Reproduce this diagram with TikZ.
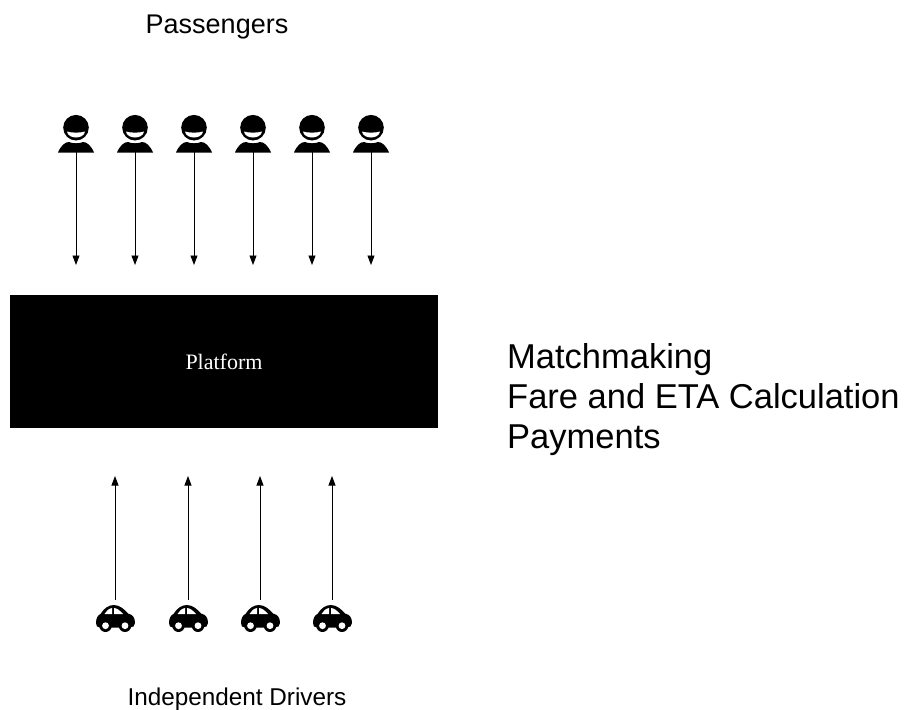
\documentclass[tikz,border=0pt]{standalone}
\usepackage{fontspec}
\setmainfont{Liberation Sans}
\newfontfamily\serifface{Liberation Serif}
\usetikzlibrary{arrows.meta}
\tikzset{
  x=1pt,y=-1pt,
  flow/.style={draw=black,line width=0.9pt,-{Triangle[length=9.5pt,width=7pt]},shorten >=0pt},
  label/.style={text=black,inner sep=0pt,anchor=base},
  service/.style={font=\fontsize{34.5}{40}\selectfont,text=black,inner sep=0pt,align=left,anchor=west},
  anchorbox/.style={inner sep=0pt,minimum width=36pt,minimum height=4pt},
  person/.pic={
    \fill[black] (0,-24.8) circle (12.8);
    \fill[white] (-9,-21) .. controls (-5,-19.5) and (5,-19.5) .. (9,-21) .. controls (8,-13) and (-8,-13) .. (-9,-21) -- cycle;
    \fill[black] (-18,0) .. controls (-15,-7) and (-11,-10.5) .. (-7,-10.5) .. controls (-4,-8.8) and (4,-8.8) .. (7,-10.5) .. controls (11,-10.5) and (15,-7) .. (18,0) -- cycle;
  },
  car/.pic={
    \fill[black] (-19,-9) .. controls (-19,-14) and (-17,-17) .. (-14.5,-18) .. controls (-11,-24) and (-6,-27) .. (-1,-27) .. controls (5,-27) and (10,-22) .. (13,-18.5) .. controls (18,-17.5) and (20,-14) .. (20,-9) .. controls (20,-6) and (18,-4.5) .. (15,-4.5) -- (-15,-4.5) .. controls (-18,-4.5) and (-19,-6) .. (-19,-9) -- cycle;
    \fill[black] (-9.5,-6.3) circle (6.3);
    \fill[black] (10,-6.3) circle (6.3);
    \fill[white] (-10.5,-18) .. controls (-9,-21) and (-6,-23.5) .. (-3,-24) -- (-3,-18) -- cycle;
    \fill[white] (-1,-24) .. controls (2,-24) and (5.5,-21) .. (8,-18) -- (-1,-18) -- cycle;
    \fill[white] (-9.5,-6.3) circle (3.4);
    \fill[white] (10,-6.3) circle (3.4);
  }
}
\begin{document}
\begin{tikzpicture}
\useasboundingbox (0,0) rectangle (904,709);
\fill[white] (0,0) rectangle (904,709);
\node[label,font=\fontsize{27}{31}\selectfont] (passengers) at (217,34) {Passengers};
\node[fill=black,text=white,minimum width=428pt,minimum height=133pt,inner sep=0pt,font=\serifface\fontsize{22}{26}\selectfont] (platform) at (224,361.5) {Platform};
\foreach \n/\x in {1/76,2/135,3/194,4/253,5/312,6/371}{
  \pic at (\x,152.5) {person};
  \node[anchorbox] (p\n) at (\x,150) {};
  \coordinate (pe\n) at (\x,265);
  \draw[flow] (p\n.south) -- (pe\n);
}
\foreach \n/\x in {1/115,2/188,3/260,4/332}{
  \pic at (\x,632) {car};
  \node[anchorbox] (c\n) at (\x,602) {};
  \coordinate (ce\n) at (\x,476);
  \draw[flow] (c\n.north) -- (ce\n);
}
\node[label,font=\fontsize{24.3}{28}\selectfont] (drivers) at (237,705) {Independent Drivers};
\node[service] (services) at (507,399.5) {Matchmaking\\Fare and ETA Calculation\\Payments};
\end{tikzpicture}
\end{document}
